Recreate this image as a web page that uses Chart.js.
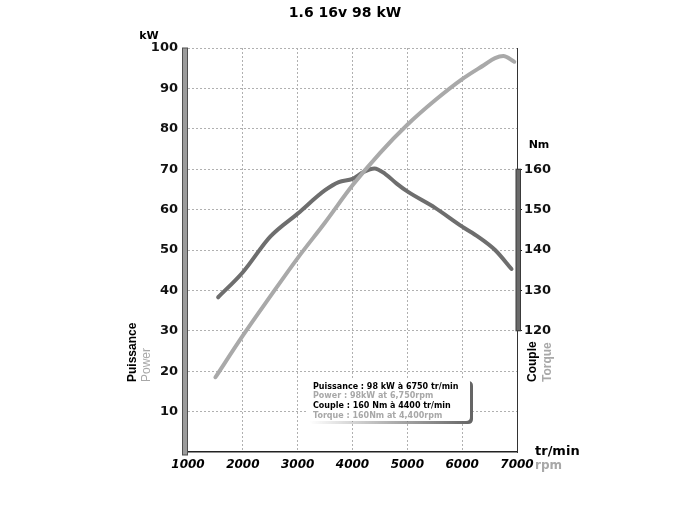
<!DOCTYPE html>
<html>
<head>
<meta charset="utf-8">
<script src="https://cdn.jsdelivr.net/npm/chart.js@4/dist/chart.umd.min.js"></script>
<style>
html,body{margin:0;padding:0;background:#fff;}
#wrap{width:700px;height:525px;position:relative;}
</style>
</head>
<body>
<div id="wrap"><canvas id="c" width="700" height="525"></canvas></div>
<script>
// ---- data ----
const chartTitle = '1.6 16v 98 kW';
const rpmTicks = [1000, 2000, 3000, 4000, 5000, 6000, 7000];
const kwTicks = [0, 10, 20, 30, 40, 50, 60, 70, 80, 90, 100];
const nmTicks = [120, 130, 140, 150, 160];

const powerRpm = [1500, 2000, 2500, 3000, 3500, 4000, 4500, 5000, 5500, 6000, 6400, 6600, 6750, 6950];
const powerKw  = [18.5, 28.8, 38.5, 48.0, 56.8, 66.0, 74.0, 81.0, 87.0, 92.3, 95.8, 97.5, 98.0, 96.6];

const torqueRpm = [1550, 2000, 2500, 3000, 3500, 3750, 4000, 4200, 4400, 4600, 4800, 5000, 5500, 6000, 6300, 6600, 6900];
const torqueNm  = [128.3, 134.5, 143.3, 149.0, 154.8, 156.8, 157.6, 159.3, 160.2, 158.8, 156.5, 154.5, 150.5, 145.8, 143.2, 140.0, 135.3];

const legendLines = [
  ['Puissance : 98 kW à 6750 tr/min', '#000'],
  ['Power : 98kW at 6,750rpm', '#a8a8a8'],
  ['Couple : 160 Nm à 4400 tr/min', '#000'],
  ['Torque : 160Nm at 4,400rpm', '#a8a8a8']
];

const powerPoints = powerRpm.map((r, i) => ({x: r, y: powerKw[i]}));
const torquePoints = torqueRpm.map((r, i) => ({x: r, y: torqueNm[i]}));

function rrect(ctx, x, y, w, h, r) {
  ctx.beginPath();
  ctx.moveTo(x + r, y);
  ctx.lineTo(x + w - r, y);
  ctx.quadraticCurveTo(x + w, y, x + w, y + r);
  ctx.lineTo(x + w, y + h - r);
  ctx.quadraticCurveTo(x + w, y + h, x + w - r, y + h);
  ctx.lineTo(x + r, y + h);
  ctx.quadraticCurveTo(x, y + h, x, y + h - r);
  ctx.lineTo(x, y + r);
  ctx.quadraticCurveTo(x, y, x + r, y);
  ctx.closePath();
}

const deco = {
  id: 'deco',
  afterDatasetsDraw(chart) {
    const ctx = chart.ctx;
    // legend box with right/bottom shadow
    ctx.save();
    const g = ctx.createLinearGradient(309, 0, 473, 0);
    g.addColorStop(0, 'rgba(110,110,110,0)');
    g.addColorStop(0.55, 'rgba(110,110,110,0.6)');
    g.addColorStop(1, 'rgba(100,100,100,1)');
    rrect(ctx, 309, 381, 164, 43, 5);
    ctx.fillStyle = g;
    ctx.fill();
    rrect(ctx, 306, 378, 164, 43, 4);
    ctx.fillStyle = '#fff';
    ctx.fill();
    ctx.font = 'bold 8px "DejaVu Sans"';
    ctx.textBaseline = 'middle';
    ctx.textAlign = 'left';
    legendLines.forEach((l, i) => {
      ctx.fillStyle = l[1];
      ctx.fillText(l[0], 313, 386.5 + i * 9.8);
    });
    ctx.restore();
  },
  afterDraw(chart) {
    const ctx = chart.ctx;
    const y = chart.scales.y, y2 = chart.scales.y2, ca = chart.chartArea;
    ctx.save();
    // left thick bar
    const top = y.getPixelForValue(100), bot = y.getPixelForValue(0);
    ctx.fillStyle = '#9c9c9c';
    ctx.fillRect(ca.left - 5.5, top, 5, bot - top + 3);
    ctx.strokeStyle = '#505050';
    ctx.lineWidth = 1;
    ctx.strokeRect(ca.left - 5.5, top, 5, bot - top + 3);
    // right thick bar
    const t2 = y2.getPixelForValue(160), b2 = y2.getPixelForValue(120);
    ctx.fillStyle = '#6a6a6a';
    ctx.fillRect(ca.right - 1, t2, 4.5, b2 - t2);
    ctx.strokeStyle = '#3a3a3a';
    ctx.strokeRect(ca.right - 1, t2, 4.5, b2 - t2);

    // title
    ctx.fillStyle = '#000';
    ctx.textAlign = 'center';
    ctx.textBaseline = 'middle';
    ctx.font = 'bold 14px "DejaVu Sans"';
    ctx.fillText(chartTitle, 345, 13);
    // unit labels
    ctx.font = 'bold 11px "DejaVu Sans"';
    ctx.fillText('kW', 149, 36);
    ctx.fillText('Nm', 539, 145);
    ctx.textAlign = 'left';
    ctx.font = 'bold 13px "DejaVu Sans"';
    ctx.fillText('tr/min', 535, 452);
    ctx.fillStyle = '#a8a8a8';
    ctx.font = 'bold 12px "DejaVu Sans"';
    ctx.fillText('rpm', 535, 466);

    // rotated labels
    const rot = (txt, x, yb, font, color) => {
      ctx.save();
      ctx.translate(x, yb);
      ctx.rotate(-Math.PI / 2);
      ctx.font = font;
      ctx.fillStyle = color;
      ctx.textAlign = 'left';
      ctx.textBaseline = 'middle';
      ctx.fillText(txt, 0, 0);
      ctx.restore();
    };
    rot('Puissance', 133, 382, 'bold 12px "Liberation Sans"', '#000');
    rot('Power', 147, 382, '12px "Liberation Sans"', '#a8a8a8');
    rot('Couple', 533, 382, 'bold 12px "Liberation Sans"', '#000');
    rot('Torque', 548, 382, 'bold 12px "Liberation Sans"', '#a8a8a8');
    ctx.restore();
  }
};

new Chart(document.getElementById('c'), {
  type: 'line',
  data: {
    datasets: [
      {
        label: 'Puissance / Power (kW)',
        data: powerPoints,
        yAxisID: 'y',
        borderColor: '#a9a9a9',
        borderWidth: 4,
        pointRadius: 0,
        cubicInterpolationMode: 'monotone',
        fill: false,
        borderCapStyle: 'round'
      },
      {
        label: 'Couple / Torque (Nm)',
        data: torquePoints,
        yAxisID: 'y2',
        borderColor: '#6e6e6e',
        borderWidth: 4,
        pointRadius: 0,
        cubicInterpolationMode: 'monotone',
        fill: false,
        borderCapStyle: 'round'
      }
    ]
  },
  options: {
    responsive: false,
    animation: false,
    devicePixelRatio: 1,
    layout: {padding: {top: 48, left: 0, right: 0, bottom: 0}},
    plugins: {legend: {display: false}, title: {display: false}, tooltip: {enabled: false}},
    scales: {
      x: {
        type: 'linear',
        min: 1000, max: 7000,
        afterBuildTicks: s => { s.ticks = rpmTicks.map(v => ({value: v})); },
        afterFit: s => { s.height = 73; },
        ticks: {
          font: {family: 'DejaVu Sans', size: 12, weight: 'bold', style: 'italic'},
          color: '#000',
          padding: 6,
          maxRotation: 0,
          callback: v => String(v)
        },
        grid: {
          drawTicks: false,
          color: c => (c.tick && (c.tick.value === 1000 || c.tick.value === 7000)) ? 'rgba(0,0,0,0)' : '#b0b0b0',
          lineWidth: 1
        },
        border: {display: true, color: '#222', width: 1.5, dash: [2, 2]}
      },
      y: {
        position: 'left',
        min: 0, max: 100,
        afterBuildTicks: s => { s.ticks = kwTicks.map(v => ({value: v})); },
        afterFit: s => { s.width = 188; },
        ticks: {
          font: {family: 'DejaVu Sans', size: 13, weight: 'bold'},
          color: '#111',
          padding: 4,
          callback: v => v === 0 ? '' : String(v)
        },
        grid: {
          drawTicks: true,
          tickLength: 6,
          tickColor: '#222',
          color: c => (c.tick && c.tick.value === 0) ? 'rgba(0,0,0,0)' : '#b0b0b0',
          lineWidth: 1
        },
        border: {display: false, dash: [2, 2]}
      },
      y2: {
        position: 'right',
        min: 90, max: 190,
        afterBuildTicks: s => { s.ticks = nmTicks.map(v => ({value: v})); },
        afterFit: s => { s.width = 183; },
        ticks: {
          font: {family: 'DejaVu Sans', size: 13, weight: 'bold'},
          color: '#111',
          padding: 2
        },
        grid: {
          drawOnChartArea: false,
          drawTicks: true,
          tickLength: 5,
          tickColor: '#222'
        },
        border: {display: true, color: '#333', width: 1}
      }
    }
  },
  plugins: [deco]
});
</script>
</body>
</html>
